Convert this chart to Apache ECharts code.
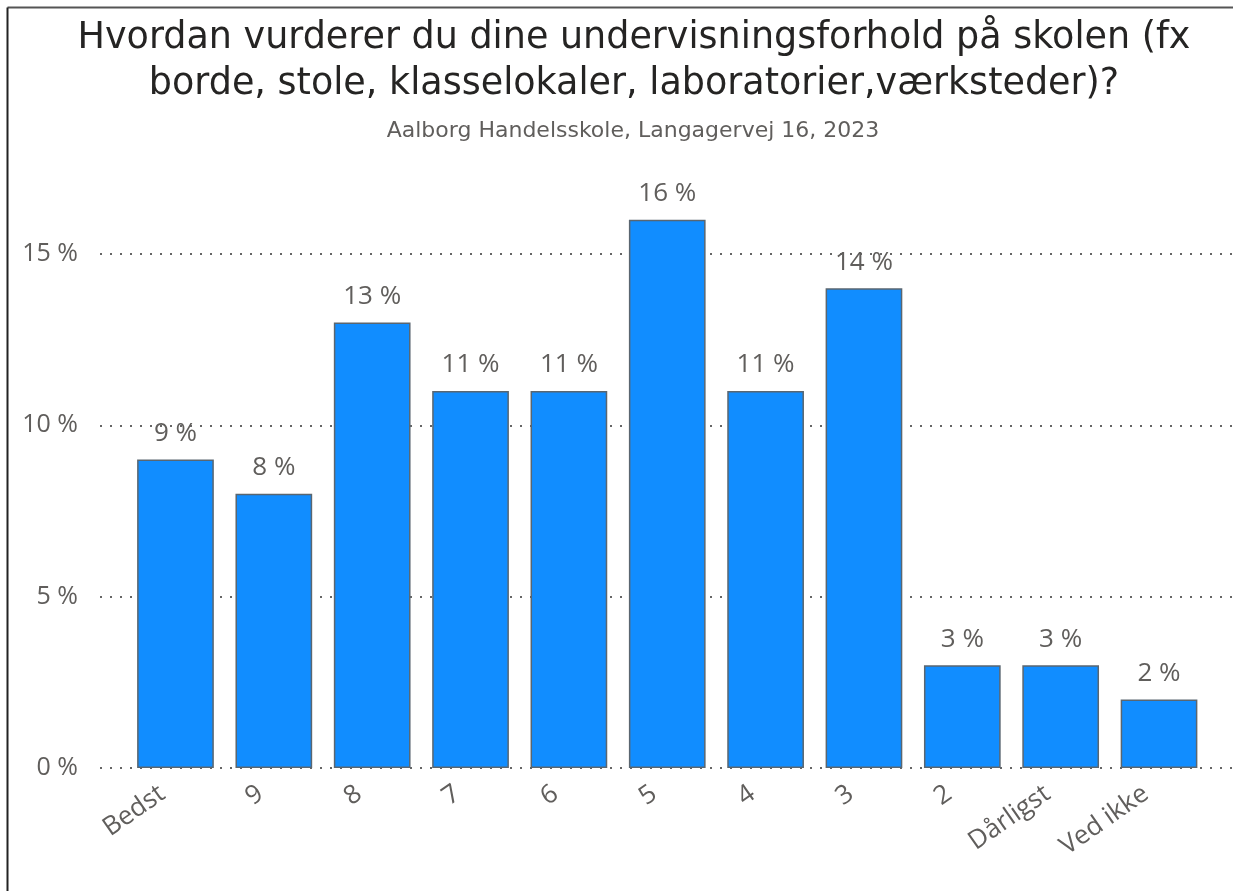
<!DOCTYPE html>
<html>
<head>
<meta charset="utf-8">
<script src="https://cdn.jsdelivr.net/npm/echarts@6/dist/echarts.min.js"></script>
<style>
html,body{margin:0;padding:0;background:#fff;}
#c{width:1233px;height:891px;}
</style>
</head>
<body>
<div id="c"></div>
<script>
const categories = ['Bedst', '9', '8', '7', '6', '5', '4', '3', '2', 'Dårligst', 'Ved ikke'];
const values = [9, 8, 13, 11, 11, 16, 11, 14, 3, 3, 2];
const yTicks = [0, 5, 10, 15];

const chart = echarts.init(document.getElementById('c'));
const gridTop = 168.3, gridBottom = 123;
const yMax = 17.5;
const labelColor = '#605E5C';
const font = 'Open Sans';

chart.setOption({
  animation: false,
  backgroundColor: '#fff',
  title: [{
    text: 'Hvordan vurderer du dine undervisningsforhold på skolen (fx\nborde, stole, klasselokaler, laboratorier,værksteder)?',
    left: 629,
    textAlign: 'center',
    top: 11,
    textStyle: { fontFamily: 'DejaVu Sans', fontWeight: 400, fontSize: 36.5, lineHeight: 46, color: '#252423' }
  }, {
    text: 'Aalborg Handelsskole, Langagervej 16, 2023',
    left: 628,
    textAlign: 'center',
    top: 115,
    textStyle: { fontFamily: 'DejaVu Sans', fontWeight: 400, fontSize: 22, color: labelColor }
  }],
  graphic: [
    { type: 'line', shape: { x1: 7.5, y1: 7.5, x2: 1233, y2: 7.5 }, style: { stroke: '#555', lineWidth: 2 } },
    { type: 'line', shape: { x1: 7.5, y1: 7.5, x2: 7.5, y2: 891 }, style: { stroke: '#222', lineWidth: 2 } }
  ],
  grid: [
    { left: 100, right: 0, top: gridTop, bottom: gridBottom },
    { left: 126.3, right: 24.8, top: gridTop, bottom: gridBottom }
  ],
  xAxis: [
    { type: 'category', gridIndex: 0, data: categories, show: false },
    {
      type: 'category', gridIndex: 1, data: categories,
      axisLine: { show: false }, axisTick: { show: false },
      axisLabel: {
        rotate: 35, margin: 14, color: labelColor, fontFamily: font, fontSize: 26,
        interval: 0, padding: [0, 16, 0, 0]
      }
    }
  ],
  yAxis: [
    {
      type: 'value', gridIndex: 0, min: 0, max: yMax, interval: 5,
      axisLine: { show: false }, axisTick: { show: false },
      axisLabel: {
        showMaxLabel: false, margin: 22, color: labelColor, fontFamily: font, fontSize: 25,
        formatter: v => (yTicks.indexOf(v) >= 0 ? v + ' %' : '')
      },
      splitLine: { show: true, showMaxLine: false, lineStyle: { color: '#666', width: 2, type: [2, 8] } }
    },
    { type: 'value', gridIndex: 1, min: 0, max: yMax, interval: 5, show: false, splitLine: { show: false } }
  ],
  series: [{
    type: 'bar',
    xAxisIndex: 1, yAxisIndex: 1,
    data: values,
    barWidth: '78%',
    itemStyle: { color: '#118DFF', borderColor: '#5a6670', borderWidth: 1.5 },
    label: {
      show: true, position: 'top', distance: 13,
      formatter: '{c} %', color: labelColor, fontFamily: font, fontSize: 26
    }
  }]
});
</script>
</body>
</html>
